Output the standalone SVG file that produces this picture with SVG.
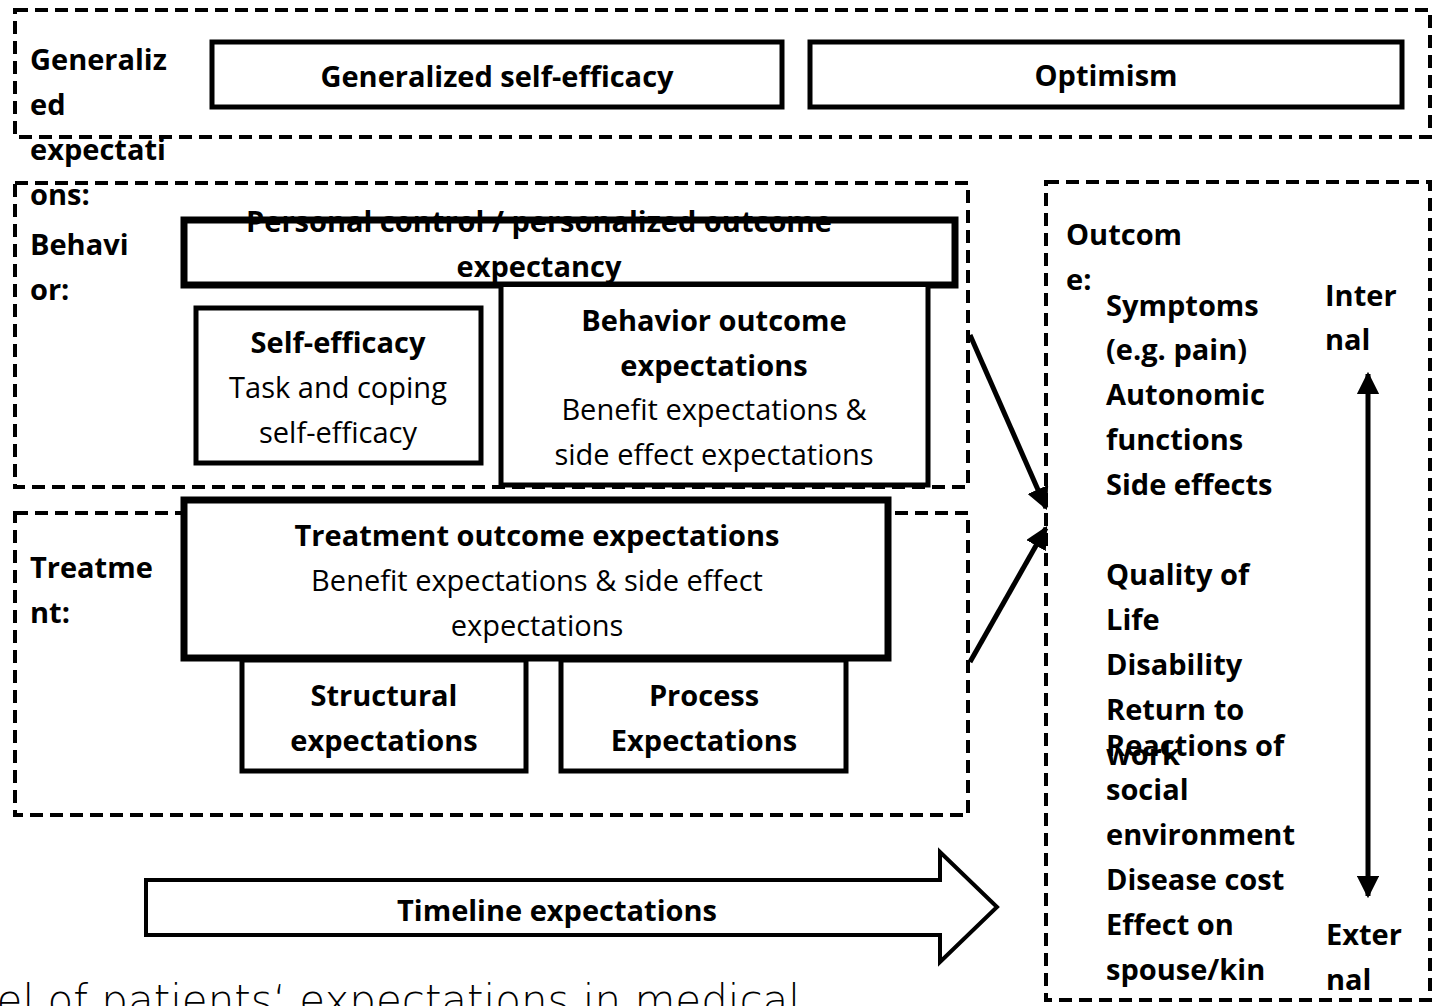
<svg xmlns="http://www.w3.org/2000/svg" width="1433" height="1006" viewBox="0 0 1433 1006">
<defs>
<style>
.dash{fill:none;stroke:#000;stroke-width:4;stroke-dasharray:13 7}
.box{fill:#fff;stroke:#000;stroke-width:5}
.thick{fill:#fff;stroke:#000;stroke-width:7}
text{font-family:"Open Sans","Liberation Sans",sans-serif;font-size:29px;fill:#000}
.b{font-weight:bold}
.c{text-anchor:middle}
.conn{stroke:#000;stroke-width:5;fill:none}
</style>
<marker id="ah" viewBox="0 0 10 10" refX="9" refY="5" markerWidth="4.5" markerHeight="4.5" orient="auto-start-reverse" markerUnits="strokeWidth">
<path d="M0,0 L10,5 L0,10 Z" fill="#000"/>
</marker>
</defs>
<rect width="1433" height="1006" fill="#fff"/>

<g id="group-generalized">
<rect class="dash" x="15" y="10" width="1415" height="127"/>
</g>
<g id="group-behavior">
<rect class="dash" x="15" y="183" width="953" height="304"/>
</g>
<g id="group-treatment">
<rect class="dash" x="15" y="513" width="953" height="302"/>
</g>
<g id="group-outcome">
<rect class="dash" x="1046" y="182" width="384" height="818"/>
</g>

<g id="label-generalized">
<text class="b" x="30" y="70">Generaliz</text>
<text class="b" x="30" y="115">ed</text>
<text class="b" x="30" y="160">expectati</text>
<text class="b" x="30" y="205">ons:</text>
</g>
<g id="label-behavior">
<text class="b" x="30" y="255">Behavi</text>
<text class="b" x="30" y="300">or:</text>
</g>
<g id="label-treatment">
<text class="b" x="30" y="578">Treatme</text>
<text class="b" x="30" y="623">nt:</text>
</g>

<g id="node-gse">
<rect class="box" x="212" y="42" width="570" height="65"/>
<text class="b c" x="497" y="87">Generalized self-efficacy</text>
</g>
<g id="node-optimism">
<rect class="box" x="810" y="42" width="592" height="65"/>
<text class="b c" x="1106" y="86">Optimism</text>
</g>

<g id="node-personal">
<rect class="thick" x="184" y="220" width="771" height="65"/>
<text class="b c" x="539" y="232">Personal control / personalized outcome</text>
<text class="b c" x="539" y="277">expectancy</text>
</g>
<g id="node-selfefficacy">
<rect class="box" x="196" y="308" width="285" height="155"/>
<text class="b c" x="338" y="353">Self-efficacy</text>
<text class="c" x="338" y="398">Task and coping</text>
<text class="c" x="338" y="443">self-efficacy</text>
</g>
<g id="node-behavior-outcome">
<path d="M501,287 V485 H928 V287" fill="#fff" stroke="#000" stroke-width="5"/>
<text class="b c" x="714" y="331">Behavior outcome</text>
<text class="b c" x="714" y="376">expectations</text>
<text class="c" x="714" y="420">Benefit expectations &amp;</text>
<text class="c" x="714" y="465">side effect expectations</text>
</g>

<g id="node-treatment-outcome">
<rect class="thick" x="184" y="500" width="704" height="158"/>
<text class="b c" x="537" y="546">Treatment outcome expectations</text>
<text class="c" x="537" y="591">Benefit expectations &amp; side effect</text>
<text class="c" x="537" y="636">expectations</text>
</g>
<g id="node-structural">
<rect class="box" x="242" y="660" width="284" height="111"/>
<text class="b c" x="384" y="706">Structural</text>
<text class="b c" x="384" y="751">expectations</text>
</g>
<g id="node-process">
<rect class="box" x="561" y="660" width="285" height="111"/>
<text class="b c" x="704" y="706">Process</text>
<text class="b c" x="704" y="751">Expectations</text>
</g>

<g id="node-timeline">
<path d="M146,880 H940 V852 L997,907 L940,962 V935 H146 Z" fill="#fff" stroke="#000" stroke-width="4" stroke-linejoin="miter"/>
<text class="b c" x="557" y="921">Timeline expectations</text>
</g>

<g id="label-outcome">
<text class="b" x="1066" y="245">Outcom</text>
<text class="b" x="1066" y="290">e:</text>
<text class="b" x="1106" y="316">Symptoms</text>
<text class="b" x="1106" y="360">(e.g. pain)</text>
<text class="b" x="1106" y="405">Autonomic</text>
<text class="b" x="1106" y="450">functions</text>
<text class="b" x="1106" y="495">Side effects</text>
<text class="b" x="1106" y="585">Quality of</text>
<text class="b" x="1106" y="630">Life</text>
<text class="b" x="1106" y="675">Disability</text>
<text class="b" x="1106" y="720">Return to</text>
<text class="b" x="1106" y="765">work</text>
<text class="b" x="1106" y="756">Reactions of</text>
<text class="b" x="1106" y="800">social</text>
<text class="b" x="1106" y="845">environment</text>
<text class="b" x="1106" y="890">Disease cost</text>
<text class="b" x="1106" y="935">Effect on</text>
<text class="b" x="1106" y="980">spouse/kin</text>
<text class="b" x="1325" y="306">Inter</text>
<text class="b" x="1325" y="350">nal</text>
<text class="b" x="1326" y="945">Exter</text>
<text class="b" x="1326" y="990">nal</text>
</g>

<g id="connectors">
<line class="conn" x1="970" y1="335" x2="1046" y2="508" marker-end="url(#ah)"/>
<line class="conn" x1="970" y1="662" x2="1046" y2="528" marker-end="url(#ah)"/>
<line class="conn" x1="1368" y1="374" x2="1368" y2="896" stroke-width="4" marker-start="url(#ah)" marker-end="url(#ah)"/>
</g>

<text x="800" y="1015" text-anchor="end" style="font-family:'DejaVu Sans',sans-serif;font-size:42px;font-weight:300">Model of  patients‘ expectations in medical</text>
</svg>
